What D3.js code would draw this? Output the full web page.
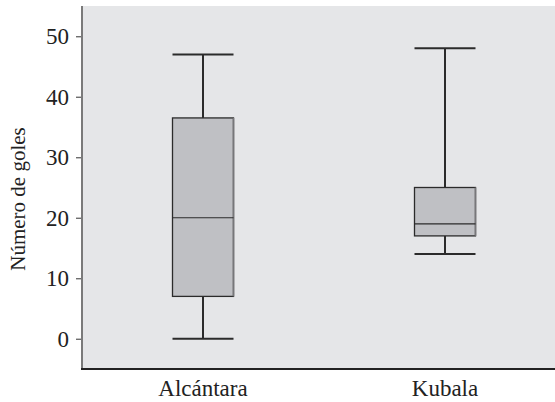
<!DOCTYPE html>
<html>
<head>
<meta charset="utf-8">
<script src="https://cdn.jsdelivr.net/npm/d3@7/dist/d3.min.js"></script>
<style>
  html, body { margin: 0; padding: 0; background: #ffffff; }
  svg { display: block; }
  .lbl { font-family: "Liberation Serif", serif; fill: #222; font-size: 23px; }
</style>
</head>
<body>
<svg id="chart" width="555" height="402"></svg>
<script>
// Data
const categories = ["Alcántara", "Kubala"];
const minValues = [0, 14];
const q1Values = [7, 17];
const medianValues = [20, 19];
const q3Values = [36.5, 25];
const maxValues = [47, 48];
const yTicks = [0, 10, 20, 30, 40, 50];
const yLabel = "Número de goles";

const svg = d3.select("#chart");
const plot = { left: 82, right: 555, top: 6, bottom: 369 };

const x = d3.scalePoint().domain(categories).range([82, 566]).padding(0.5);
const y = d3.scaleLinear().domain([-5, 55]).range([plot.bottom, plot.top]);
const boxW = 61;

// background
svg.append("rect")
  .attr("x", plot.left).attr("y", plot.top)
  .attr("width", plot.right - plot.left).attr("height", plot.bottom - plot.top)
  .attr("fill", "#e5e6e8");

const data = categories.map((c, i) => ({
  cat: c, min: minValues[i], q1: q1Values[i], med: medianValues[i], q3: q3Values[i], max: maxValues[i]
}));

const box = svg.append("g").selectAll("g.box").data(data).join("g").attr("class", "box");
const dark = "#2b2b2b";

box.append("line")
  .attr("x1", d => x(d.cat)).attr("x2", d => x(d.cat))
  .attr("y1", d => y(d.max)).attr("y2", d => y(d.q3))
  .attr("stroke", dark).attr("stroke-width", 2);
box.append("line")
  .attr("x1", d => x(d.cat)).attr("x2", d => x(d.cat))
  .attr("y1", d => y(d.q1)).attr("y2", d => y(d.min))
  .attr("stroke", dark).attr("stroke-width", 2);
box.append("line")
  .attr("x1", d => x(d.cat) - boxW / 2).attr("x2", d => x(d.cat) + boxW / 2)
  .attr("y1", d => y(d.max)).attr("y2", d => y(d.max))
  .attr("stroke", dark).attr("stroke-width", 2);
box.append("line")
  .attr("x1", d => x(d.cat) - boxW / 2).attr("x2", d => x(d.cat) + boxW / 2)
  .attr("y1", d => y(d.min)).attr("y2", d => y(d.min))
  .attr("stroke", dark).attr("stroke-width", 2);
box.append("rect")
  .attr("x", d => x(d.cat) - boxW / 2).attr("width", boxW)
  .attr("y", d => y(d.q3)).attr("height", d => y(d.q1) - y(d.q3))
  .attr("fill", "#bfc0c4").attr("stroke", dark).attr("stroke-width", 1.3);
box.append("line")
  .attr("x1", d => x(d.cat) + boxW / 2).attr("x2", d => x(d.cat) + boxW / 2)
  .attr("y1", d => y(d.q3)).attr("y2", d => y(d.q1))
  .attr("stroke", "#77777a").attr("stroke-width", 1.6);
box.append("line")
  .attr("x1", d => x(d.cat) - boxW / 2).attr("x2", d => x(d.cat) + boxW / 2)
  .attr("y1", d => y(d.med)).attr("y2", d => y(d.med))
  .attr("stroke", dark).attr("stroke-width", 1.2);

// left axis: tick marks from d3.axisLeft, labels drawn with the same scale
const ya = svg.append("g").attr("transform", `translate(${plot.left},0)`)
  .call(d3.axisLeft(y).tickValues(yTicks).tickSize(6).tickFormat(""));
ya.select(".domain").remove();
ya.selectAll(".tick line").attr("stroke", "#555").attr("stroke-width", 1.2);
svg.append("g").selectAll("text").data(yTicks).join("text")
  .attr("class", "lbl")
  .attr("x", plot.left - 13)
  .attr("y", d => y(d))
  .attr("dy", "0.34em")
  .attr("text-anchor", "end")
  .text(d => d);
svg.append("line")
  .attr("x1", plot.left).attr("x2", plot.left)
  .attr("y1", plot.top).attr("y2", plot.bottom)
  .attr("stroke", "#7a7a7a").attr("stroke-width", 2);

// bottom axis
svg.append("g").selectAll("text").data(categories).join("text")
  .attr("class", "lbl")
  .attr("x", d => x(d))
  .attr("y", 396)
  .attr("text-anchor", "middle")
  .text(d => d);
svg.append("line")
  .attr("x1", plot.left - 1).attr("x2", plot.right)
  .attr("y1", plot.bottom).attr("y2", plot.bottom)
  .attr("stroke", "#222").attr("stroke-width", 2);

// y label
svg.append("text")
  .attr("class", "lbl")
  .attr("transform", `translate(25,199) rotate(-90)`)
  .attr("text-anchor", "middle")
  .style("font-size", "21px")
  .text(yLabel);
</script>
</body>
</html>
